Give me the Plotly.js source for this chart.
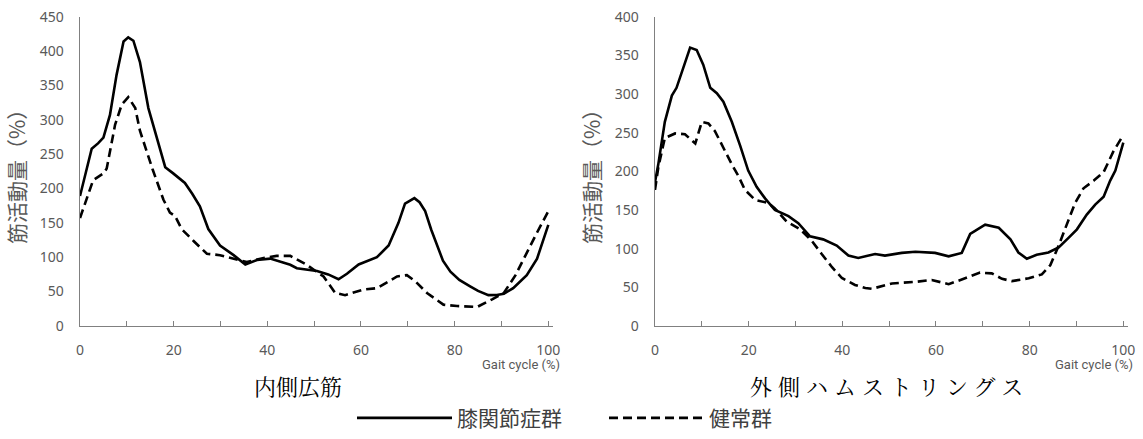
<!DOCTYPE html>
<html>
<head>
<meta charset="utf-8">
<script src="https://cdn.plot.ly/plotly-3.0.1.min.js"></script>
<style>html,body{margin:0;padding:0;background:#fff;}#chart{width:1143px;height:439px;}</style>
</head>
<body>
<div id="chart"></div>
<script>
// ---- Data ----
const seriesNames = ["膝関節症群", "健常群"];
const panelTitles = ["内側広筋", "外側ハムストリングス"];
const xAxisLabel = "Gait cycle (%)";
const yAxisLabel = "筋活動量（%）";

// 内側広筋 – 膝関節症群
const vmOA_x = [0,1,2,2.5,3.9,5,6.4,7.8,9.3,10.3,11.4,12.8,14.6,16.4,18.2,19.9,22.4,24,25.6,27.4,29.9,32.8,35.3,37.8,40.6,44.9,46.3,50.6,53,55.2,57,59.5,63.4,65.9,68,69.4,71.4,72.5,73.7,75,76.2,77.5,79.1,81,83.3,85,87.2,89,90.5,92.5,95.4,97.6,100];
const vmOA_y = [189,215,245,258,266,274,307,365,414,420,415,384,317,274,231,222,208,192,174,141,117,103,89.5,96,98,89,84,80,75,68,76,89.5,100,117,150,178,186,180,167,140,117,95,79,67,57.6,51,44.8,45,46.7,55,74,98,147];
// 内側広筋 – 健常群
const vmH_x = [0,1.8,2.8,5,5.7,7.5,8.9,10.3,11.8,12.8,14.2,15.5,17.8,19.2,20.3,21.7,24.2,27.1,29.9,32.8,35.6,39.2,42,44.9,48.4,52,54.5,56.6,60.5,63.4,67.7,69.8,71.6,74.1,77.6,80.5,84.8,88,90.5,93,95.1,97.6,100];
const vmH_y = [157,191,212,222,229,293,322,333,317,284,255,228,184,165,160,141,124,105,103,98,93,99,102,102,89,72,48,44.8,53,55,72,74,65,48,31,29,27.6,38.6,48,74,103,136,167];

// 外側ハムストリングス – 膝関節症群
const lhOA_x = [0,0.7,2.1,3.6,4.6,5.7,7.5,8.9,10.3,11.8,13.2,14.6,16.4,18.2,19.9,21.7,23.5,25.6,28.5,30.6,33.1,35.9,38.8,41.3,43.4,47,49.1,52.7,55.6,59.8,62.7,65.5,67.3,70.5,73.4,75.9,77.6,79.4,81.5,84,86.2,88.3,90.1,92.2,94,95.8,97.2,98.3,100];
const lhOA_y = [186,209,264,298,308,327,360,357,338,308,301,290,264,233,201,180,165,150,142,133,116,112,104,91,88,93,91,94.5,96,94.5,90,94.5,119,131,127,112,95,87,92,95,101.6,114,125,144,157,167,188,201,237];
// 外側ハムストリングス – 健常群
const lhH_x = [0,0.7,2.1,4.3,6.4,7.8,8.6,10,11.4,12.8,14.6,16.4,17.8,19.2,21.4,24.2,25.6,28.1,31,33.5,35.6,37.8,39.9,42.7,44.9,46.3,50.6,55.6,59.1,62.7,66.2,69.4,71.9,74.1,76.2,79.8,82.6,84.4,86.2,88,89.7,91.5,93.7,95.8,97.9,100];
const lhH_y = [176,205,243,249,248,241,236,264,262,252,230,209,194,176,163,159,152,135,125,110,93,76,62,53,49,48,55,57,59.5,54,61.6,69,68,61,58,61.6,66.7,78.5,104,133,159,178,188,199,226,247];

const xTicks = [0,20,40,60,80,100];
const yTicksLeft = [0,50,100,150,200,250,300,350,400,450];
const yTicksRight = [0,50,100,150,200,250,300,350,400];

// ---- Layout helpers ----
const W = 1143, H = 439;
const px = v => v / W;
const solid = {color:'#000', width:2.6, dash:'solid'};
const dashed = {color:'#000', width:2.6, dash:'9px,5px'};
const tickFont = {family:'"Noto Sans", "DejaVu Sans", sans-serif', size:14, color:'#595959'};
const cjk = '"Noto Sans CJK JP", "Noto Sans", sans-serif';

const traces = [
  {x:vmOA_x, y:vmOA_y, xaxis:'x', yaxis:'y', mode:'lines', name:seriesNames[0], line:solid, legendrank:1},
  {x:vmH_x, y:vmH_y, xaxis:'x', yaxis:'y', mode:'lines', name:seriesNames[1], line:dashed, legendrank:2},
  {x:lhOA_x, y:lhOA_y, xaxis:'x2', yaxis:'y2', mode:'lines', name:seriesNames[0], line:solid, showlegend:false},
  {x:lhH_x, y:lhH_y, xaxis:'x2', yaxis:'y2', mode:'lines', name:seriesNames[1], line:dashed, showlegend:false}
];

function xAxis(domain, anchor){
  return {
    domain: domain, anchor: anchor, range:[0,101], tickvals:xTicks, ticktext:xTicks.map(String),
    ticks:'inside', ticklen:5, tickwidth:1, tickcolor:'#808080',
    minor:{tickvals:[10,30,50,70,90], ticks:'inside', ticklen:5, tickwidth:1, tickcolor:'#808080'},
    showline:true, linecolor:'#808080', linewidth:1.5, showgrid:false, zeroline:false,
    tickfont: tickFont, ticklabelstandoff: 11, fixedrange:true
  };
}
function yAxis(domain, anchor, max, vals){
  return {
    domain: domain, anchor: anchor, range:[0,max], tickvals:vals, ticktext:vals.map(String),
    ticks:'', showline:true, linecolor:'#808080', linewidth:1.5, showgrid:false, zeroline:false,
    tickfont: tickFont, ticklabelstandoff: 12,
    title:{text:yAxisLabel, font:{family:cjk, size:21, color:'#595959'}, standoff:8},
    fixedrange:true
  };
}

const yDom = [1 - 332/H, 1 - 17/H];
const layout = {
  width:W, height:H, margin:{l:0, r:0, t:0, b:0},
  paper_bgcolor:'#fff', plot_bgcolor:'#fff',
  showlegend:true,
  xaxis: xAxis([px(80), px(553)], 'y'),
  yaxis: yAxis(yDom, 'x', 450, yTicksLeft),
  xaxis2: xAxis([px(655), px(1128)], 'y2'),
  yaxis2: yAxis(yDom, 'x2', 400, yTicksRight),
  legend:{orientation:'h', x:px(352), xanchor:'left', y:1 - 426/H, yanchor:'middle',
          font:{family:cjk, size:21, color:'#404040'}, itemwidth:95,
          entrywidth:142, entrywidthmode:'pixels', tracegroupgap:0,
          bgcolor:'rgba(0,0,0,0)'},
  annotations:[
    {xref:'paper', yref:'paper', x:px(562), y:1 - 371/H, xanchor:'right', yanchor:'middle', showarrow:false,
     text:xAxisLabel, font:{family:'Roboto, "Noto Sans", sans-serif', size:13, color:'#595959'}},
    {xref:'paper', yref:'paper', x:px(1135), y:1 - 371/H, xanchor:'right', yanchor:'middle', showarrow:false,
     text:xAxisLabel, font:{family:'Roboto, "Noto Sans", sans-serif', size:13, color:'#595959'}},
    {xref:'paper', yref:'paper', x:px(298), y:1 - 393/H, xanchor:'center', yanchor:'middle', showarrow:false,
     text:panelTitles[0], font:{family:'"Noto Serif CJK JP", ' + cjk, size:22, color:'#000'}},
    {xref:'paper', yref:'paper', x:px(889), y:1 - 393/H, xanchor:'center', yanchor:'middle', showarrow:false,
     text:panelTitles[1], font:{family:'"Noto Serif CJK JP", ' + cjk, size:22, color:'#000'}}
  ]
};

Plotly.newPlot('chart', traces, layout, {displayModeBar:false, staticPlot:true}).then(function(gd){
  // the right-hand panel title is set with slightly wider character spacing in the reference
  const ann = gd.querySelectorAll('.annotation-text');
  if (ann[3]) { ann[3].style.letterSpacing = '6px'; }
});
</script>
</body>
</html>
